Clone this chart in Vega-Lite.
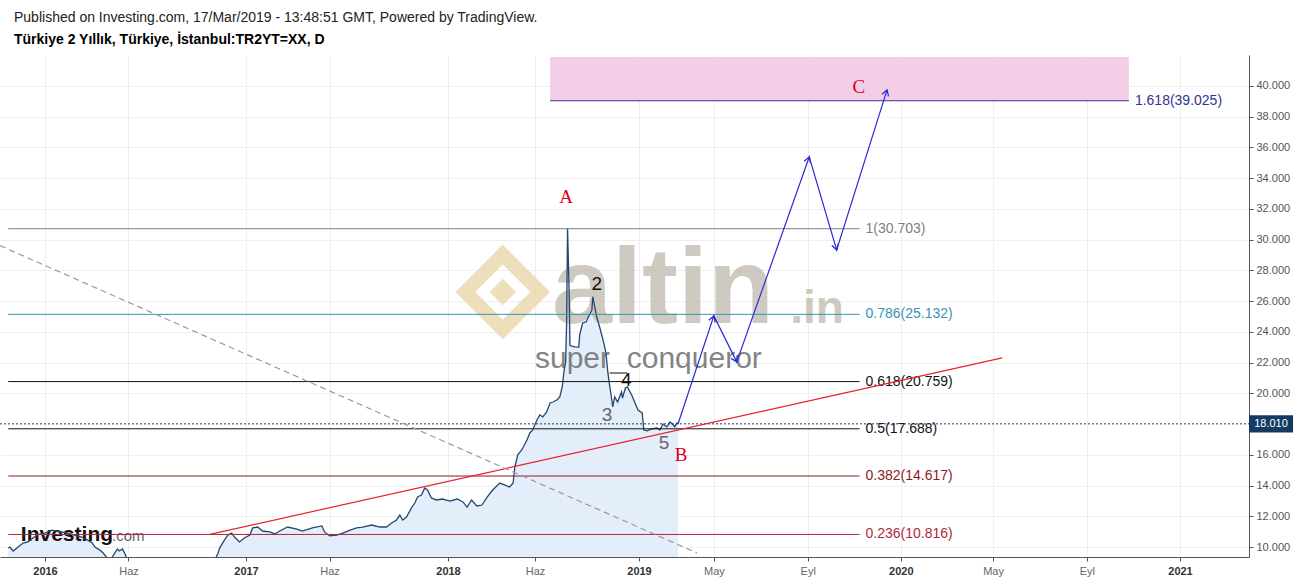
{
  "$schema": "https://vega.github.io/schema/vega-lite/v6.json",
  "width": 1249,
  "height": 502,
  "autosize": {"type": "none"},
  "padding": {"top": 55, "left": 0, "right": 50, "bottom": 23},
  "background": "white",
  "config": {"view": {"stroke": null}, "font": "Liberation Sans"},
  "title": {
    "text": "Published on Investing.com, 17/Mar/2019 - 13:48:51 GMT, Powered by TradingView.",
    "subtitle": "Türkiye 2 Yıllık, Türkiye, İstanbul:TR2YT=XX, D",
    "anchor": "start",
    "frame": "group",
    "dx": 14,
    "offset": 8,
    "font": "Liberation Sans",
    "fontSize": 14,
    "fontWeight": "normal",
    "color": "#222222",
    "subtitleFont": "Liberation Sans",
    "subtitleFontSize": 14,
    "subtitleFontWeight": "bold",
    "subtitleColor": "#000000",
    "subtitlePadding": 8
  },
  "datasets": {
    "price": [
      {"d": "2015-10-26", "v": 9.93}, {"d": "2015-10-29", "v": 10.0}, {"d": "2015-11-04", "v": 9.74}, {"d": "2015-11-13", "v": 10.0},
      {"d": "2015-11-22", "v": 10.26}, {"d": "2015-12-01", "v": 10.33}, {"d": "2015-12-10", "v": 10.59}, {"d": "2015-12-19", "v": 10.8},
      {"d": "2016-01-01", "v": 10.9}, {"d": "2016-01-13", "v": 11.1}, {"d": "2016-01-28", "v": 11.0}, {"d": "2016-02-12", "v": 10.9},
      {"d": "2016-02-25", "v": 10.75}, {"d": "2016-03-08", "v": 10.65}, {"d": "2016-03-18", "v": 10.46}, {"d": "2016-03-27", "v": 10.26},
      {"d": "2016-04-01", "v": 10.0}, {"d": "2016-04-10", "v": 9.8}, {"d": "2016-04-16", "v": 9.61}, {"d": "2016-04-25", "v": 9.2},
      {"d": "2016-05-02", "v": 9.3}, {"d": "2016-05-08", "v": 9.67}, {"d": "2016-05-12", "v": 9.87}, {"d": "2016-05-15", "v": 9.74},
      {"d": "2016-05-21", "v": 9.87}, {"d": "2016-05-24", "v": 9.67}, {"d": "2016-05-30", "v": 9.2}, {"d": "2016-06-13", "v": 8.9},
      {"d": "2016-07-11", "v": 8.7}, {"d": "2016-08-07", "v": 8.6}, {"d": "2016-09-03", "v": 8.7}, {"d": "2016-10-01", "v": 8.8},
      {"d": "2016-10-28", "v": 9.0}, {"d": "2016-11-06", "v": 9.2}, {"d": "2016-11-11", "v": 9.6}, {"d": "2016-11-14", "v": 9.93},
      {"d": "2016-11-23", "v": 10.46}, {"d": "2016-11-29", "v": 10.78}, {"d": "2016-12-06", "v": 10.91}, {"d": "2016-12-11", "v": 10.65},
      {"d": "2016-12-20", "v": 10.33}, {"d": "2016-12-29", "v": 10.59}, {"d": "2017-01-08", "v": 10.78}, {"d": "2017-01-13", "v": 11.24},
      {"d": "2017-01-22", "v": 11.3}, {"d": "2017-01-31", "v": 11.04}, {"d": "2017-02-13", "v": 10.98}, {"d": "2017-02-22", "v": 10.85},
      {"d": "2017-03-03", "v": 11.04}, {"d": "2017-03-17", "v": 11.3}, {"d": "2017-04-03", "v": 11.17}, {"d": "2017-04-13", "v": 11.04},
      {"d": "2017-05-01", "v": 11.24}, {"d": "2017-05-18", "v": 11.37}, {"d": "2017-05-23", "v": 10.98}, {"d": "2017-06-01", "v": 10.72},
      {"d": "2017-06-14", "v": 10.78}, {"d": "2017-06-25", "v": 10.91}, {"d": "2017-07-08", "v": 11.1}, {"d": "2017-07-20", "v": 11.24},
      {"d": "2017-07-31", "v": 11.3}, {"d": "2017-08-16", "v": 11.43}, {"d": "2017-08-31", "v": 11.3}, {"d": "2017-09-12", "v": 11.3},
      {"d": "2017-09-21", "v": 11.56}, {"d": "2017-09-30", "v": 11.76}, {"d": "2017-10-06", "v": 12.08}, {"d": "2017-10-11", "v": 11.76},
      {"d": "2017-10-18", "v": 11.95}, {"d": "2017-10-27", "v": 12.54}, {"d": "2017-11-02", "v": 12.86}, {"d": "2017-11-07", "v": 13.25},
      {"d": "2017-11-14", "v": 13.38}, {"d": "2017-11-20", "v": 13.84}, {"d": "2017-11-25", "v": 13.71}, {"d": "2017-12-02", "v": 13.19},
      {"d": "2017-12-11", "v": 13.06}, {"d": "2017-12-22", "v": 13.12}, {"d": "2018-01-04", "v": 12.99}, {"d": "2018-01-17", "v": 13.12},
      {"d": "2018-01-27", "v": 12.93}, {"d": "2018-02-03", "v": 12.6}, {"d": "2018-02-11", "v": 13.06}, {"d": "2018-02-20", "v": 12.67},
      {"d": "2018-03-01", "v": 12.73}, {"d": "2018-03-09", "v": 13.19}, {"d": "2018-03-18", "v": 13.64}, {"d": "2018-03-23", "v": 13.84},
      {"d": "2018-04-01", "v": 14.16}, {"d": "2018-04-10", "v": 14.03}, {"d": "2018-04-18", "v": 13.9}, {"d": "2018-04-24", "v": 14.16},
      {"d": "2018-04-27", "v": 15.2}, {"d": "2018-05-02", "v": 15.99}, {"d": "2018-05-09", "v": 16.31}, {"d": "2018-05-18", "v": 16.96},
      {"d": "2018-05-23", "v": 17.42}, {"d": "2018-05-28", "v": 17.61}, {"d": "2018-06-05", "v": 18.26}, {"d": "2018-06-11", "v": 18.59},
      {"d": "2018-06-17", "v": 18.46}, {"d": "2018-06-25", "v": 18.78}, {"d": "2018-07-02", "v": 19.37}, {"d": "2018-07-08", "v": 19.43},
      {"d": "2018-07-16", "v": 19.56}, {"d": "2018-07-22", "v": 19.76}, {"d": "2018-07-27", "v": 20.41}, {"d": "2018-07-31", "v": 21.52},
      {"d": "2018-08-03", "v": 22.0}, {"d": "2018-08-05", "v": 24.5}, {"d": "2018-08-07", "v": 30.75}, {"d": "2018-08-10", "v": 26.9},
      {"d": "2018-08-12", "v": 23.1}, {"d": "2018-08-22", "v": 23.01}, {"d": "2018-08-30", "v": 23.0}, {"d": "2018-09-01", "v": 23.8},
      {"d": "2018-09-05", "v": 24.31}, {"d": "2018-09-07", "v": 24.57}, {"d": "2018-09-14", "v": 24.64}, {"d": "2018-09-18", "v": 24.9},
      {"d": "2018-09-26", "v": 25.42}, {"d": "2018-09-28", "v": 26.27}, {"d": "2018-10-02", "v": 25.61}, {"d": "2018-10-06", "v": 24.96},
      {"d": "2018-10-12", "v": 24.31}, {"d": "2018-10-19", "v": 23.47}, {"d": "2018-10-25", "v": 22.62}, {"d": "2018-10-29", "v": 21.32},
      {"d": "2018-11-02", "v": 20.41}, {"d": "2018-11-06", "v": 19.56}, {"d": "2018-11-08", "v": 19.11}, {"d": "2018-11-12", "v": 19.76},
      {"d": "2018-11-18", "v": 19.43}, {"d": "2018-11-26", "v": 20.08}, {"d": "2018-11-28", "v": 19.69}, {"d": "2018-12-04", "v": 20.34},
      {"d": "2018-12-08", "v": 20.41}, {"d": "2018-12-17", "v": 19.89}, {"d": "2018-12-23", "v": 19.43}, {"d": "2018-12-30", "v": 18.91},
      {"d": "2019-01-07", "v": 18.72}, {"d": "2019-01-10", "v": 17.61}, {"d": "2019-01-16", "v": 17.55}, {"d": "2019-01-25", "v": 17.68},
      {"d": "2019-02-04", "v": 17.74}, {"d": "2019-02-09", "v": 17.61}, {"d": "2019-02-15", "v": 18.0}, {"d": "2019-02-22", "v": 17.81},
      {"d": "2019-02-28", "v": 18.13}, {"d": "2019-03-06", "v": 17.94}, {"d": "2019-03-09", "v": 17.81}, {"d": "2019-03-13", "v": 18.07},
      {"d": "2019-03-15", "v": 18.01}
    ],
    "fib": [
      {"level": "1", "v": 30.703, "d": "2015-10-26", "d2": "2019-11-08", "label": "1(30.703)"},
      {"level": "0.786", "v": 25.132, "d": "2015-10-26", "d2": "2019-11-08", "label": "0.786(25.132)"},
      {"level": "0.618", "v": 20.759, "d": "2015-10-26", "d2": "2019-11-08", "label": "0.618(20.759)"},
      {"level": "0.5", "v": 17.688, "d": "2015-10-26", "d2": "2019-11-08", "label": "0.5(17.688)"},
      {"level": "0.382", "v": 14.617, "d": "2015-10-26", "d2": "2019-11-08", "label": "0.382(14.617)"},
      {"level": "0.236", "v": 10.816, "d": "2015-10-26", "d2": "2019-11-08", "label": "0.236(10.816)"},
      {"level": "1.618", "v": 39.025, "d": "2018-07-02", "d2": "2020-10-26", "label": "1.618(39.025)"}
    ],
    "target": [{"d": "2018-07-02", "d2": "2020-10-26", "v": 39.025, "v2": 41.87}],
    "last": [{"d": "2015-10-11", "d2": "2021-04-01", "v": 18.01, "label": "18.010"}],
    "trend": [{"d": "2016-10-27", "v": 10.82}, {"d": "2020-05-13", "v": 22.3}],
    "falling": [{"d": "2015-10-11", "v": 29.6}, {"d": "2019-04-09", "v": 9.61}],
    "path": [
      {"d": "2019-03-15", "v": 18.0, "step": 0},
      {"d": "2019-05-01", "v": 25.03, "step": 1},
      {"d": "2019-05-31", "v": 22.04, "step": 2},
      {"d": "2019-09-03", "v": 35.37, "step": 3},
      {"d": "2019-10-09", "v": 29.32, "step": 4},
      {"d": "2019-12-14", "v": 39.73, "step": 5}
    ],
    "waves": [
      {"d": "2018-08-04", "v": 32.77, "t": "A", "k": "letter"},
      {"d": "2019-03-19", "v": 15.99, "t": "B", "k": "letter"},
      {"d": "2019-11-07", "v": 39.93, "t": "C", "k": "letter"},
      {"d": "2018-10-06", "v": 27.11, "t": "2", "k": "dark"},
      {"d": "2018-12-06", "v": 20.87, "t": "4", "k": "dark"},
      {"d": "2018-10-27", "v": 18.59, "t": "3", "k": "light"},
      {"d": "2019-02-17", "v": 16.77, "t": "5", "k": "light"}
    ],
    "marks": [
      {"d": "2018-07-06", "v": 24.57, "t": "altin", "k": "big"},
      {"d": "2019-08-09", "v": 24.57, "t": ".in", "k": "small"},
      {"d": "2018-06-01", "v": 21.65, "t": "super_conqueror", "k": "author"},
      {"d": "2015-11-18", "v": 10.39, "t": "Investing", "k": "inv"},
      {"d": "2016-05-02", "v": 10.39, "t": ".com", "k": "com"},
      {"d": "2018-04-06", "v": 26.59, "t": "", "k": "icon"}
    ]
  },
  "encoding": {
    "x": {"field": "d", "type": "temporal",
      "axis": {
        "values": [{"year": 2016, "month": 1, "date": 1, "utc": true}, {"year": 2016, "month": 6, "date": 1, "utc": true}, {"year": 2017, "month": 1, "date": 1, "utc": true}, {"year": 2017, "month": 6, "date": 1, "utc": true}, {"year": 2018, "month": 1, "date": 1, "utc": true}, {"year": 2018, "month": 6, "date": 1, "utc": true}, {"year": 2019, "month": 1, "date": 1, "utc": true}, {"year": 2019, "month": 5, "date": 1, "utc": true}, {"year": 2019, "month": 9, "date": 1, "utc": true}, {"year": 2020, "month": 1, "date": 1, "utc": true}, {"year": 2020, "month": 5, "date": 1, "utc": true}, {"year": 2020, "month": 9, "date": 1, "utc": true}, {"year": 2021, "month": 1, "date": 1, "utc": true}],
        "labelExpr": "utcmonth(datum.value) == 0 ? '' + utcyear(datum.value) : (utcmonth(datum.value) == 5 ? 'Haz' : (utcmonth(datum.value) == 4 ? 'May' : 'Eyl'))",
        "title": null, "grid": true, "gridColor": "#efefef", "domainColor": "#555555", "tickColor": "#555555", "tickSize": 4,
        "labelFont": "Liberation Sans", "labelFontSize": 11, "labelPadding": 4, "labelOverlap": false, "labelFlush": false,
        "labelFontWeight": {"condition": {"test": "utcmonth(datum.value) == 0", "value": "bold"}, "value": "normal"},
        "labelColor": {"condition": {"test": "utcmonth(datum.value) == 0", "value": "#333333"}, "value": "#666666"}
      }
    },
    "y": {"field": "v", "type": "quantitative", "scale": {"domain": [9.35, 42.0], "nice": false, "zero": false},
      "axis": {"orient": "right", "values": [10, 12, 14, 16, 20, 22, 24, 26, 28, 30, 32, 34, 36, 38, 40], "format": ".3f", "title": null,
        "grid": true, "gridColor": "#efefef", "domainColor": "#555555", "tickColor": "#555555", "tickSize": 4, "labelOverlap": false,
        "labelFont": "Liberation Sans", "labelFontSize": 11, "labelColor": "#555555", "labelPadding": 3}}
  },
  "layer": [
    {
      "data": {"name": "target"},
      "mark": {"type": "rect", "color": "#f3cfe7"},
      "encoding": {
        "x": {"field": "d", "type": "temporal",
          "scale": {"type": "utc", "nice": false,
            "domain": {"expr": "[utc(2015,9,11), utc(2016,0,1), utc(2017,0,1), utc(2018,0,1), utc(2018,5,1), utc(2019,0,1), utc(2019,2,15), utc(2021,0,1), utc(2021,3,1)]"},
            "range": [0, 45, 246, 448, 535, 639, 678, 1180, 1249]}},
        "x2": {"field": "d2"},
        "y2": {"field": "v2"}
      }
    },
    {
      "data": {"name": "price"},
      "mark": {"type": "area", "color": "#e4eefa", "clip": true},
      "encoding": {"y2": {"datum": 9.35}}
    },
    {
      "data": {"name": "marks"},
      "transform": [{"filter": "datum.k == 'icon'"}],
      "mark": {"type": "point", "shape": "diamond", "size": 5600, "filled": false, "stroke": "#e8d3a6", "strokeWidth": 14, "opacity": 0.75}
    },
    {
      "data": {"name": "marks"},
      "transform": [{"filter": "datum.k == 'icon'"}],
      "mark": {"type": "point", "shape": "diamond", "size": 700, "filled": true, "color": "#e8d3a6", "opacity": 0.75}
    },
    {
      "data": {"name": "marks"},
      "transform": [{"filter": "datum.k == 'big'"}],
      "mark": {"type": "text", "font": "Liberation Sans", "fontWeight": "bold", "fontSize": 108, "color": "#c4bdb2", "opacity": 0.8, "align": "left", "baseline": "alphabetic"},
      "encoding": {"text": {"field": "t"}}
    },
    {
      "data": {"name": "marks"},
      "transform": [{"filter": "datum.k == 'small'"}],
      "mark": {"type": "text", "font": "Liberation Sans", "fontWeight": "bold", "fontSize": 46, "color": "#c4bdb2", "opacity": 0.8, "align": "left", "baseline": "alphabetic"},
      "encoding": {"text": {"field": "t"}}
    },
    {
      "data": {"name": "marks"},
      "transform": [{"filter": "datum.k == 'author'"}],
      "mark": {"type": "text", "font": "Liberation Sans", "fontSize": 30, "color": "#6f6f6f", "opacity": 0.85, "align": "left", "baseline": "alphabetic"},
      "encoding": {"text": {"field": "t"}}
    },
    {
      "data": {"name": "marks"},
      "transform": [{"filter": "datum.k == 'inv'"}],
      "mark": {"type": "text", "font": "Liberation Sans", "fontWeight": "bold", "fontSize": 21, "color": "#111111", "align": "left", "baseline": "alphabetic"},
      "encoding": {"text": {"field": "t"}}
    },
    {
      "data": {"name": "marks"},
      "transform": [{"filter": "datum.k == 'com'"}],
      "mark": {"type": "text", "font": "Liberation Sans", "fontSize": 15, "color": "#666666", "align": "left", "baseline": "alphabetic"},
      "encoding": {"text": {"field": "t"}}
    },
    {
      "data": {"name": "price"},
      "mark": {"type": "line", "color": "#24476e", "strokeWidth": 1.3, "clip": true}
    },
    {
      "data": {"name": "fib"},
      "mark": {"type": "rule", "strokeWidth": 1},
      "encoding": {
        "x2": {"field": "d2"},
        "color": {"field": "level", "type": "nominal", "legend": null,
          "scale": {"domain": ["1", "0.786", "0.618", "0.5", "0.382", "0.236", "1.618"],
            "range": ["#7f7f7f", "#3a93b3", "#111111", "#111111", "#8b1c1c", "#b0283a", "#33338f"]}}
      }
    },
    {
      "data": {"name": "fib"},
      "mark": {"type": "text", "align": "left", "baseline": "middle", "dx": 6, "font": "Liberation Sans", "fontSize": 14},
      "encoding": {
        "x": {"field": "d2", "type": "temporal"},
        "text": {"field": "label"},
        "color": {"field": "level", "type": "nominal", "legend": null}
      }
    },
    {
      "data": {"name": "last"},
      "mark": {"type": "rule", "color": "#1b3a5e", "strokeDash": [2, 2], "strokeWidth": 1},
      "encoding": {"x2": {"field": "d2"}}
    },
    {
      "data": {"name": "trend"},
      "mark": {"type": "line", "color": "#e8212e", "strokeWidth": 1.2}
    },
    {
      "data": {"name": "falling"},
      "mark": {"type": "line", "color": "#9a9a9a", "strokeWidth": 1.2, "strokeDash": [6, 4], "clip": true}
    },
    {
      "data": {"name": "path"},
      "mark": {"type": "line", "color": "#2a2ad6", "strokeWidth": 1.2},
      "encoding": {"order": {"field": "step"}}
    },
    {
      "data": {"name": "path"},
      "transform": [{"filter": "datum.step > 0"}],
      "mark": {"type": "point", "shape": "M-0.6,1L0,0L0.6,1", "filled": false, "stroke": "#2a2ad6", "strokeWidth": 1.3, "size": 130, "opacity": 1},
      "encoding": {
        "angle": {"field": "step", "type": "quantitative", "legend": null, "scale": {"domain": [1, 2, 3, 4, 5], "range": [19, 153, 19, 164, 18], "zero": false}}
      }
    },
    {
      "data": {"name": "waves"},
      "transform": [{"filter": "datum.k == 'letter'"}],
      "mark": {"type": "text", "font": "Liberation Serif", "fontSize": 19, "color": "#d9001b", "baseline": "middle"},
      "encoding": {"text": {"field": "t"}}
    },
    {
      "data": {"name": "waves"},
      "transform": [{"filter": "datum.k == 'dark'"}],
      "mark": {"type": "text", "font": "Liberation Sans", "fontSize": 19, "color": "#111111", "baseline": "middle"},
      "encoding": {"text": {"field": "t"}}
    },
    {
      "data": {"name": "waves"},
      "transform": [{"filter": "datum.k == 'light'"}],
      "mark": {"type": "text", "font": "Liberation Sans", "fontSize": 19, "color": "#666666", "baseline": "middle"},
      "encoding": {"text": {"field": "t"}}
    },
    {
      "data": {"name": "last"},
      "mark": {"type": "point", "shape": "M0,-0.72L3.67,-0.72L3.67,0.72L0,0.72Z", "size": 576, "filled": true, "color": "#123a63", "opacity": 1},
      "encoding": {"x": {"field": "d2", "type": "temporal"}}
    },
    {
      "data": {"name": "last"},
      "mark": {"type": "text", "color": "#ffffff", "font": "Liberation Sans", "fontSize": 11, "align": "center", "baseline": "middle", "dx": 22},
      "encoding": {
        "x": {"field": "d2", "type": "temporal"},
        "text": {"field": "label"}
      }
    }
  ]
}
